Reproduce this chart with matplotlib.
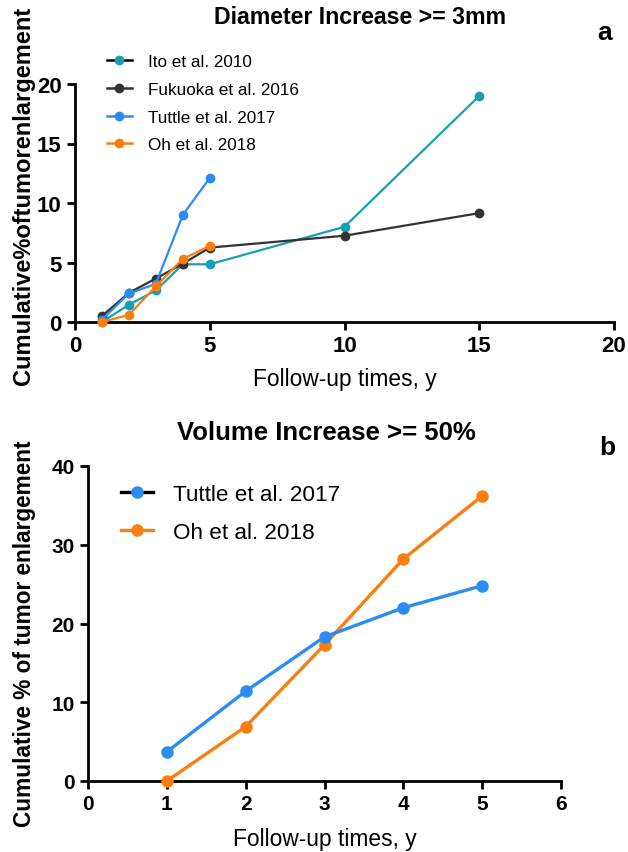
import matplotlib
matplotlib.use("Agg")
import matplotlib.pyplot as plt
from matplotlib.lines import Line2D

plt.rcParams['font.family'] = ['Liberation Sans', 'DejaVu Sans']

# ---- Panel a data ----
ito_x = [1, 2, 3, 4, 5, 10, 15]
ito_y = [0, 1.45, 2.65, 4.85, 4.85, 8.0, 19.0]
fuk_x = [1, 2, 3, 4, 5, 10, 15]
fuk_y = [0.5, 2.45, 3.65, 4.9, 6.25, 7.25, 9.15]
tut_a_x = [1, 2, 3, 4, 5]
tut_a_y = [0.2, 2.4, 3.2, 9.0, 12.1]
oh_a_x = [1, 2, 3, 4, 5]
oh_a_y = [0, 0.6, 3.0, 5.3, 6.4]

# ---- Panel b data ----
tut_b_x = [1, 2, 3, 4, 5]
tut_b_y = [3.7, 11.4, 18.3, 22.0, 24.8]
oh_b_x = [1, 2, 3, 4, 5]
oh_b_y = [0, 6.9, 17.3, 28.2, 36.2]

labels_a = ["Ito et al. 2010", "Fukuoka et al. 2016", "Tuttle et al. 2017", "Oh et al. 2018"]
labels_b = ["Tuttle et al. 2017", "Oh et al. 2018"]

C_ITO = "#18a0b2"
C_FUK = "#333333"
C_TUT = "#2b8cf5"
C_OH = "#fb7f0f"

W, H = 628, 853
fig = plt.figure(figsize=(W / 100, H / 100), dpi=100)

def style(ax, lw=2.0):
    for s in ["top", "right"]:
        ax.spines[s].set_visible(False)
    for s in ["left", "bottom"]:
        ax.spines[s].set_linewidth(lw)
    ax.tick_params(width=lw, length=6, direction="out")

# ---------- Panel a ----------
axa = fig.add_axes([75 / W, (H - 323) / H, (614 - 75) / W, (323 - 85) / H])
style(axa)
series_a = [(ito_x, ito_y, C_ITO), (fuk_x, fuk_y, C_FUK), (tut_a_x, tut_a_y, C_TUT), (oh_a_x, oh_a_y, C_OH)]
draw_order = [3, 0, 2, 1]
for i in draw_order:
    x, y, c = series_a[i]
    axa.plot(x, y, color=c, lw=1.6, marker="o", ms=6, clip_on=False, zorder=3 + i)
axa.set_xlim(0, 20)
axa.set_ylim(0, 20)
axa.set_xticks([0, 5, 10, 15, 20])
axa.set_yticks([0, 5, 10, 15, 20])
for lab in axa.get_xticklabels() + axa.get_yticklabels():
    lab.set_fontweight("bold")
    lab.set_fontsize(16)
axa.set_xlabel("Follow-up times, y", fontsize=16.4)
axa.xaxis.set_label_coords(0.5, -0.19)
axa.set_ylabel("Cumulative%oftumorenlargement", fontsize=17, fontweight="bold")
axa.yaxis.set_label_coords(-0.075, 0.535)
fig.text(360 / W, 1 - 18 / H, "Diameter Increase >= 3mm", fontsize=16.7, fontweight="bold", ha="center", va="center")
fig.text(605 / W, 1 - 33 / H, "a", fontsize=19, fontweight="bold", ha="center", va="center")

handles_a = [
    Line2D([], [], color="black", lw=1.8, marker="o", ms=6, mfc=C_ITO, mec=C_ITO),
    Line2D([], [], color=C_FUK, lw=1.8, marker="o", ms=6),
    Line2D([], [], color=C_TUT, lw=1.8, marker="o", ms=6),
    Line2D([], [], color=C_OH, lw=1.8, marker="o", ms=6),
]
axa.legend(handles_a, labels_a, loc="upper left", bbox_to_anchor=(0.046, 1.155), frameon=False,
           fontsize=12.3, handlelength=1.5, handletextpad=0.9, labelspacing=0.75, borderaxespad=0)

# ---------- Panel b ----------
axb = fig.add_axes([88 / W, (H - 782) / H, (561 - 88) / W, (782 - 467) / H])
style(axb)
axb.plot(oh_b_x, oh_b_y, color=C_OH, lw=2.4, marker="o", ms=8, clip_on=False, zorder=3)
axb.plot(tut_b_x, tut_b_y, color=C_TUT, lw=2.4, marker="o", ms=8, clip_on=False, zorder=4)
axb.set_xlim(0, 6)
axb.set_ylim(0, 40)
axb.set_xticks(range(0, 7))
axb.set_yticks([0, 10, 20, 30, 40])
for lab in axb.get_xticklabels() + axb.get_yticklabels():
    lab.set_fontweight("bold")
    lab.set_fontsize(15)
axb.set_xlabel("Follow-up times, y", fontsize=16.4)
axb.xaxis.set_label_coords(0.5, -0.146)
axb.set_ylabel("Cumulative % of tumor enlargement", fontsize=16.3, fontweight="bold")
axb.yaxis.set_label_coords(-0.11, 0.47)
fig.text(326 / W, 1 - 433 / H, "Volume Increase >= 50%", fontsize=18.5, fontweight="bold", ha="center", va="center")
fig.text(607 / W, 1 - 448 / H, "b", fontsize=19, fontweight="bold", ha="center", va="center")

handles_b = [
    Line2D([], [], color="black", lw=2.4, marker="o", ms=8, mfc=C_TUT, mec=C_TUT),
    Line2D([], [], color=C_OH, lw=2.4, marker="o", ms=8),
]
axb.legend(handles_b, labels_b, loc="upper left", bbox_to_anchor=(0.051, 0.972), frameon=False,
           fontsize=16.2, handlelength=1.42, handletextpad=0.9, labelspacing=0.75, borderaxespad=0)

fig.savefig("out.png", dpi=100)
